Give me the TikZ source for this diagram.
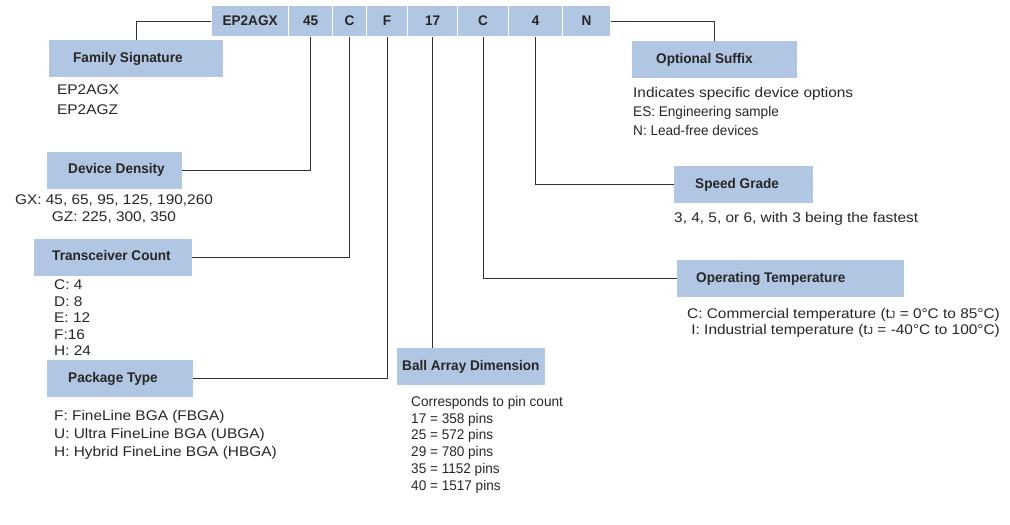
\documentclass[tikz,border=0pt]{standalone}
\usepackage{fontspec}
\setmainfont[FakeStretch=1.1]{Liberation Sans}
\newfontfamily\narrowfont[FakeStretch=0.97]{Liberation Sans}
\usepackage{tikz}

\definecolor{boxblue}{RGB}{177,198,226}
\definecolor{inkgray}{RGB}{38,38,38}
\definecolor{linegray}{RGB}{50,50,50}
\newcommand{\boxtext}[2]{\makebox[#1pt][l]{#2}}

\begin{document}
\begin{tikzpicture}[x=1pt,y=-1pt]

\tikzset{code/.style={rectangle, fill=boxblue, draw=white, line width=1.2pt, anchor=west, minimum height=31pt, inner sep=0pt, text=inkgray, font=\narrowfont\bfseries\fontsize{14}{16}\selectfont}}
\tikzset{title/.style={rectangle, fill=boxblue, anchor=west, minimum height=37pt, inner ysep=0pt, text height=10pt, text depth=3pt, text=inkgray, font=\narrowfont\bfseries\fontsize{14}{16}\selectfont}}
\tikzset{info/.style={anchor=north west, inner sep=0pt, align=left, text=inkgray, font=\fontsize{14}{16.5}\selectfont}}
\tikzset{wire/.style={draw=linegray, line width=0.9pt}}

\useasboundingbox (0,0) rectangle (1010,525);

% part number
\node[code, minimum width=77pt] (code1) at (211,21) {EP2AGX};
\node[code, minimum width=44pt] (code2) at (288,21) {45};
\node[code, minimum width=34pt] (code3) at (332,21) {C};
\node[code, minimum width=41pt] (code4) at (366,21) {F};
\node[code, minimum width=50pt] (code5) at (407,21) {17};
\node[code, minimum width=51pt] (code6) at (457,21) {C};
\node[code, minimum width=54pt] (code7) at (508,21) {4};
\node[code, minimum width=48pt] (code8) at (562,21) {N};

% field titles
\node[title, inner xsep=24pt] (fam) at (49,58.5) {\boxtext{126}{Family Signature}};
\node[title, inner xsep=21pt] (den) at (47,170) {\boxtext{93}{Device Density}};
\node[title, inner xsep=18pt] (trx) at (34,257) {\boxtext{122}{Transceiver Count}};
\node[title, inner xsep=21pt] (pkg) at (47,378.5) {\boxtext{104}{Package Type}};
\node[title, inner xsep=5pt] (ball) at (397,366.5) {\boxtext{138}{Ball Array Dimension}};
\node[title, inner xsep=24pt] (suf) at (632,59.5) {\boxtext{117}{Optional Suffix}};
\node[title, inner xsep=21pt] (speed) at (674,184.5) {\boxtext{97}{Speed Grade}};
\node[title, inner xsep=19pt] (temp) at (677,278.5) {\boxtext{189}{Operating Temperature}};

% field values
\node[info, font=\fontsize{14}{20}\selectfont] (famtxt) at (57,85) {EP2AGX\\EP2AGZ};
\node[info, anchor=north, align=center, font=\fontsize{14}{17}\selectfont] (dentxt) at (114,195) {GX: 45, 65, 95, 125, 190,260\\GZ: 225, 300, 350};
\node[info] (trxtxt) at (54,280) {C: 4\\D: 8\\E: 12\\F:16\\H: 24};
\node[info, font=\fontsize{14}{18}\selectfont] (pkgtxt) at (54,410) {F: FineLine BGA (FBGA)\\U: Ultra FineLine BGA (UBGA)\\H: Hybrid FineLine BGA (HBGA)};
\node[info, font=\narrowfont\fontsize{14}{16.8}\selectfont] (balltxt) at (411,396) {Corresponds to pin count\\17 = 358 pins\\25 = 572 pins\\29 = 780 pins\\35 = 1152 pins\\40 = 1517 pins};
\node[info, font=\fontsize{14}{19}\selectfont] (suftxt) at (633,87) {Indicates specific device options\\{\narrowfont ES: Engineering sample}\\{\narrowfont N: Lead-free devices}};
\node[info] (speedtxt) at (674,212) {3, 4, 5, or 6, with 3 being the fastest};
\node[info, anchor=north east, align=right, font=\fontsize{14}{16}\selectfont] (temptxt) at (1000,308) {C: Commercial temperature (t{\fontsize{10}{10}\selectfont J} = 0°C to 85°C)\\I: Industrial temperature (t{\fontsize{10}{10}\selectfont J} = -40°C to 100°C)};

% connectors
\draw[wire] (code1.west) -| (fam.north);
\draw[wire] (den.east) -| (code2.south);
\draw[wire] (trx.east) -| (code3.south);
\draw[wire] (pkg.east) -| (code4.south);
\draw[wire] (code5.south) -- (code5.south |- ball.north);
\draw[wire] (temp.west) -| (code6.south);
\draw[wire] (speed.west) -| (code7.south);
\draw[wire] (code8.east) -| (suf.north);

\end{tikzpicture}
\end{document}
